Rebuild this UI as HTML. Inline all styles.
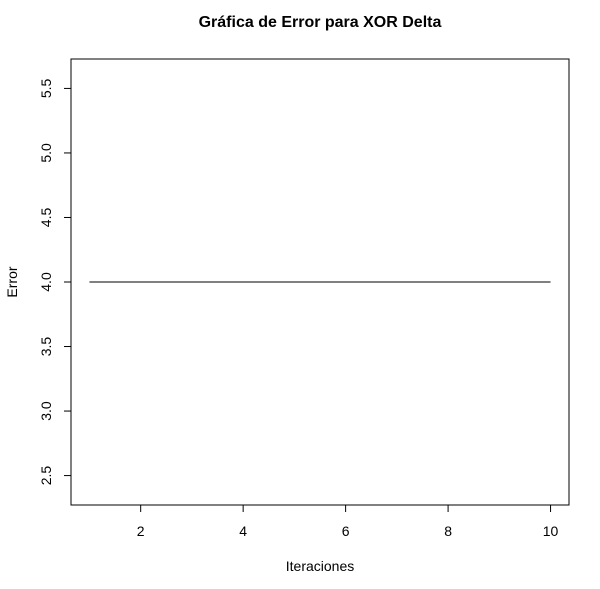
<!DOCTYPE html>
<html><head><meta charset="utf-8"><style>
body{margin:0;background:#fff}
svg text{font-family:"Liberation Sans",Arial,sans-serif;fill:#000}
</style></head><body>
<svg width="600" height="584" xmlns="http://www.w3.org/2000/svg">
<text x="320" y="27" text-anchor="middle" font-size="16" font-weight="bold">Gráfica de Error para XOR Delta</text>
<rect x="71" y="59" width="498" height="446" fill="none" stroke="#000" stroke-width="1"/>
<g id="xaxis"></g>
<g id="yaxis"></g>
<g id="series"></g>
<text x="320" y="571" text-anchor="middle" font-size="14">Iteraciones</text>
<text transform="translate(17,282) rotate(-90)" text-anchor="middle" font-size="14">Error</text>
</svg>
<script>
const iterations=[1,2,3,4,5,6,7,8,9,10];
const errors=[4,4,4,4,4,4,4,4,4,4];
const xTicks=[2,4,6,8,10];
const yTicks=[2.5,3.0,3.5,4.0,4.5,5.0,5.5];
const yTickLabels=["2.5","3.0","3.5","4.0","4.5","5.0","5.5"];
const NS="http://www.w3.org/2000/svg";
const X0=71,X1=569,Y0=505,Y1=59;
const xmin=0.64,xmax=10.36,ymin=2.272,ymax=5.728;
const xs=v=>X0+(v-xmin)/(xmax-xmin)*(X1-X0);
const ys=v=>Y0-(v-ymin)/(ymax-ymin)*(Y0-Y1);
function mk(t,a,p){const e=document.createElementNS(NS,t);for(const k in a)e.setAttribute(k,a[k]);p.appendChild(e);return e;}
const xa=document.getElementById('xaxis');
mk('line',{x1:xs(xTicks[0]),x2:xs(xTicks[xTicks.length-1]),y1:Y0,y2:Y0,stroke:'#000'},xa);
xTicks.forEach(t=>{
 const l=mk('line',{x1:xs(t),x2:xs(t),y1:Y0,y2:Y0+7,stroke:'#000'},xa);
 
 
 const tx=mk('text',{x:xs(t),y:536,'text-anchor':'middle','font-size':'14'},xa);
 tx.textContent=t;
 
 
});
const ya=document.getElementById('yaxis');
mk('line',{x1:X0,x2:X0,y1:ys(yTicks[0]),y2:ys(yTicks[yTicks.length-1]),stroke:'#000'},ya);
yTicks.forEach((t,i)=>{
 const l=mk('line',{x1:X0-7,x2:X0,y1:ys(t),y2:ys(t),stroke:'#000'},ya);
 
 
 const tx=mk('text',{transform:`translate(51,${ys(t)}) rotate(-90)`,'text-anchor':'middle','font-size':'14'},ya);
 tx.textContent=yTickLabels[i];
 
 
});
const s=document.getElementById('series');
const pl=mk('polyline',{points:iterations.map((v,i)=>xs(v)+','+ys(errors[i])).join(' '),fill:'none',stroke:'#000','stroke-width':1},s);


</script>
</body></html>
